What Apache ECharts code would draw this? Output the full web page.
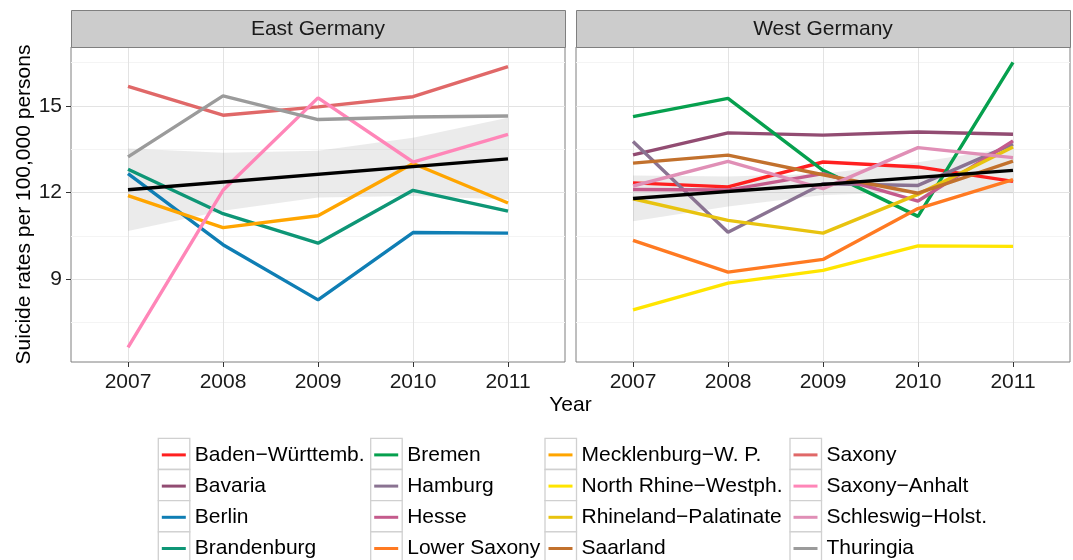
<!DOCTYPE html>
<html><head><meta charset="utf-8">
<script src="https://cdn.jsdelivr.net/npm/echarts@6/dist/echarts.min.js"></script>
<style>html,body{margin:0;padding:0;background:#fff}#c{width:1073px;height:560px}</style>
</head><body><div id="c"></div>
<script>
// ---- data ----
const years = [2007, 2008, 2009, 2010, 2011];
const yTicks = [9, 12, 15];
const yMinor = [7.5, 10.5, 13.5, 16.5];
const panels = ['East Germany', 'West Germany'];
// East Germany
const berlin       = [12.66, 10.20, 8.29, 10.62, 10.60];
const brandenburg  = [12.81, 11.27, 10.25, 12.08, 11.36];
const mecklenburg  = [11.90, 10.79, 11.20, 13.01, 11.64];
const saxony       = [15.68, 14.68, 14.97, 15.32, 16.36];
const saxonyAnhalt = [6.65, 12.08, 15.28, 13.06, 14.02];
const thuringia    = [13.24, 15.35, 14.53, 14.62, 14.65];
const eastTrendX = [2007, 2011];
const eastTrend  = [12.10, 13.17];
const eastBandUpper = [13.53, 13.38, 13.45, 13.90, 14.59];
const eastBandLower = [10.67, 11.37, 11.83, 11.88, 11.76];
// West Germany
const badenW      = [12.34, 12.20, 13.06, 12.89, 12.39];
const bavaria     = [13.31, 14.07, 13.99, 14.10, 14.02];
const bremen      = [14.63, 15.26, 12.77, 11.18, 16.51];
const hamburg     = [13.77, 10.63, 12.31, 12.25, 13.68];
const hesse       = [12.11, 12.09, 12.66, 11.71, 13.79];
const lowerSaxony = [10.35, 9.25, 9.69, 11.45, 12.45];
const nrw         = [7.94, 8.87, 9.31, 10.16, 10.14];
const rhineland   = [11.79, 11.04, 10.60, 11.94, 13.58];
const saarland    = [13.02, 13.30, 12.62, 11.98, 13.09];
const schleswig   = [12.23, 13.08, 12.14, 13.56, 13.21];
const westTrendX = [2007, 2011];
const westTrend  = [11.80, 12.77];
const westBandUpper = [12.59, 12.56, 12.65, 13.05, 13.56];
const westBandLower = [11.01, 11.52, 11.92, 12.01, 11.98];

const legendCols = [
  ['Baden−Württemb.', 'Bavaria', 'Berlin', 'Brandenburg'],
  ['Bremen', 'Hamburg', 'Hesse', 'Lower Saxony'],
  ['Mecklenburg−W. P.', 'North Rhine−Westph.', 'Rhineland−Palatinate', 'Saarland'],
  ['Saxony', 'Saxony−Anhalt', 'Schleswig−Holst.', 'Thuringia']
];

const seriesDefs = [
  // name, panel, values, color
  ['Berlin', 0, berlin, '#0F7EB4'],
  ['Brandenburg', 0, brandenburg, '#0E9676'],
  ['Mecklenburg−W. P.', 0, mecklenburg, '#FFA500'],
  ['Saxony', 0, saxony, '#E06868'],
  ['Saxony−Anhalt', 0, saxonyAnhalt, '#FF86B8'],
  ['Thuringia', 0, thuringia, '#9B9B9B'],
  ['Baden−Württemb.', 1, badenW, '#FF2020'],
  ['Bavaria', 1, bavaria, '#924C72'],
  ['Bremen', 1, bremen, '#06A04E'],
  ['Hamburg', 1, hamburg, '#8A7392'],
  ['Hesse', 1, hesse, '#C45B8C'],
  ['Lower Saxony', 1, lowerSaxony, '#FF7A22'],
  ['North Rhine−Westph.', 1, nrw, '#FFE500'],
  ['Rhineland−Palatinate', 1, rhineland, '#E8C30F'],
  ['Saarland', 1, saarland, '#C2712D'],
  ['Schleswig−Holst.', 1, schleswig, '#E08FB6']
];

// ---- layout ----
const FONT = '"Liberation Sans", Arial, Helvetica, sans-serif';
const gridLeft = [71, 576], gridTop = 47, gridW = 494, gridH = 315;
const stripTop = 10;
const legendBoxLeft = [158.3, 370.7, 545, 790];
const legendTop = 438.3, rowH = 31.2, boxW = 31.5;
const LW = 3.4;

const pair = (xs, ys) => xs.map((x, i) => [x, ys[i]]);

const grids = gridLeft.map(l => ({left: l, top: gridTop, width: gridW, height: gridH,
  show: true, borderColor: '#7F7F7F', borderWidth: 1, backgroundColor: '#fff'}));

const xAxes = [0, 1].map(g => ({
  type: 'value', gridIndex: g, min: 2006.4, max: 2011.6,
  axisLine: {show: false},
  axisTick: {show: true, customValues: years, length: 5, lineStyle: {color: '#333'}},
  axisLabel: {customValues: years, formatter: v => String(v), fontSize: 21, color: '#1a1a1a', fontFamily: FONT, margin: 10},
  splitLine: {show: true, lineStyle: {color: '#E3E3E3', width: 1}}
}));

const yAxes = [];
[0, 1].forEach(g => {
  yAxes.push({
    type: 'value', gridIndex: g, min: 6.14, max: 17.04,
    axisLine: {show: false},
    axisTick: {show: g === 0, customValues: yTicks, length: 5, lineStyle: {color: '#333'}},
    axisLabel: {show: g === 0, customValues: yTicks, fontSize: 21, color: '#1a1a1a', fontFamily: FONT, margin: 9},
    splitLine: {show: true, lineStyle: {color: '#E3E3E3', width: 1}},
    name: g === 0 ? 'Suicide rates per 100,000 persons' : '',
    nameLocation: 'middle', nameGap: 36,
    nameTextStyle: {fontSize: 21, color: '#000', fontFamily: FONT}
  });
  yAxes.push({
    type: 'value', gridIndex: g, min: 6.14, max: 17.04,
    axisLine: {show: false},
    axisTick: {show: false, customValues: yMinor},
    axisLabel: {show: false, customValues: yMinor},
    splitLine: {show: true, lineStyle: {color: '#F4F4F4', width: 1}}
  });
});

const series = [];
const bands = [[eastBandLower, eastBandUpper], [westBandLower, westBandUpper]];
bands.forEach(([lower, upper], g) => {
  series.push({
    type: 'custom', xAxisIndex: g, yAxisIndex: g * 2, silent: true, z: 1,
    data: years.map((y, i) => [y, lower[i], upper[i]]),
    encode: {x: 0, y: [1, 2]},
    renderItem: (params, api) => {
      if (params.dataIndex !== 0) return null;
      const top = years.map((y, i) => api.coord([y, upper[i]]));
      const bot = years.map((y, i) => api.coord([y, lower[i]])).reverse();
      return {type: 'polygon', shape: {points: top.concat(bot)},
        style: {fill: 'rgba(153,153,153,0.2)', stroke: null}};
    }
  });
});
seriesDefs.forEach(([name, g, vals, color]) => {
  series.push({
    name, type: 'line', xAxisIndex: g, yAxisIndex: g * 2, data: pair(years, vals),
    symbol: 'none', color, lineStyle: {width: LW, color}, z: 2
  });
});
[[eastTrendX, eastTrend], [westTrendX, westTrend]].forEach(([xs, ys], g) => {
  series.push({
    type: 'line', xAxisIndex: g, yAxisIndex: g * 2, data: pair(xs, ys),
    symbol: 'none', lineStyle: {width: LW, color: '#000'}, z: 3
  });
});

const legends = legendCols.map((names, c) => ({
  orient: 'vertical', left: legendBoxLeft[c] + 3.5, top: legendTop + 1, height: 200, padding: 0,
  itemGap: 0, itemWidth: 24, itemHeight: 3, icon: 'rect', selectedMode: false,
  data: names,
  textStyle: {fontSize: 21, color: '#000', fontFamily: FONT, lineHeight: rowH, padding: [0, 0, 0, 4]}
}));

const graphics = [];
// facet strips
gridLeft.forEach((l, g) => {
  graphics.push({type: 'rect', left: l, top: stripTop, z: 10,
    shape: {width: gridW, height: gridTop - stripTop},
    style: {fill: '#CCCCCC', stroke: '#7F7F7F', lineWidth: 1}});
  graphics.push({type: 'text', x: l + gridW / 2, y: (stripTop + gridTop) / 2 + 0.5, z: 11,
    style: {text: panels[g], fontSize: 21, fill: '#1a1a1a', fontFamily: FONT,
      textAlign: 'center', textVerticalAlign: 'middle'}});
});
// x axis title
graphics.push({type: 'text', x: (gridLeft[0] + gridLeft[1] + gridW) / 2, y: 405, z: 11,
  style: {text: 'Year', fontSize: 21, fill: '#000', fontFamily: FONT,
    textAlign: 'center', textVerticalAlign: 'middle'}});
// legend key boxes
legendBoxLeft.forEach(bl => {
  for (let r = 0; r < 4; r++) {
    graphics.push({type: 'rect', x: bl, y: legendTop + r * rowH, z: 0,
      shape: {width: boxW, height: rowH},
      style: {fill: '#fff', stroke: '#D0D0D0', lineWidth: 1.3}});
  }
});

const chart = echarts.init(document.getElementById('c'), null, {renderer: 'canvas'});
chart.setOption({
  animation: false,
  backgroundColor: '#fff',
  grid: grids, xAxis: xAxes, yAxis: yAxes,
  legend: legends,
  graphic: graphics,
  series
});
</script></body></html>
